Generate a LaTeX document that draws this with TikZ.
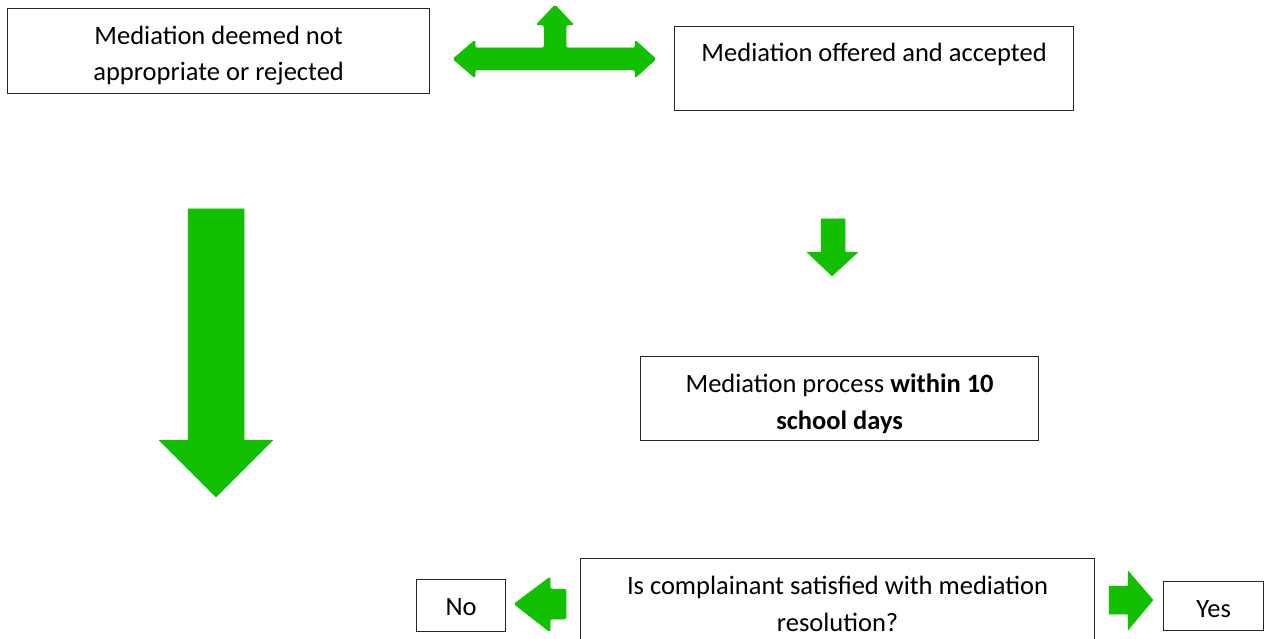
\documentclass[tikz,border=0pt]{standalone}
\usepackage{fontspec}
\setmainfont{Carlito}
\definecolor{arrowgreen}{RGB}{19,192,0}

\begin{document}
\begin{tikzpicture}[
	x=1pt, y=-1pt,
	box/.style={ draw=black!85, line width=1.2pt, fill=white, inner sep=0pt, anchor=north west },
	txt/.style={ anchor=base, inner sep=0pt, align=center, font=\fontsize{26.5}{36.5}\selectfont },
	blockarrow/.style={ fill=arrowgreen, draw=arrowgreen, line width=0.5pt, line join=round }
]
\clip (0,0) rectangle (1269,639);

\node at (7,8) (deemed) [box, minimum width=422pt, minimum height=85pt] {};
\node at (674,26) (offered) [box, minimum width=399pt, minimum height=84pt] {};
\node at (640,356) (process) [box, minimum width=398pt, minimum height=84pt] {};
\node at (580,558) (satisfied) [box, minimum width=514pt, minimum height=100pt] {};
\node at (416,579) (no) [box, minimum width=89pt, minimum height=52pt] {};
\node at (1163,581) (yes) [box, minimum width=100pt, minimum height=49pt] {};

\begin{scope}
\clip (deemed.north west) rectangle ([yshift=8pt]deemed.south east);
\node at ([yshift=-73pt]deemed.north) (deemedtxt) [txt] {Mediation deemed not\\appropriate or rejected};
\end{scope}
\node at ([yshift=-36pt]offered.north) (offeredtxt) [txt] {Mediation offered and accepted};
\begin{scope}
\clip (process.north west) rectangle ([yshift=8pt]process.south east);
\node at ([yshift=-73pt]process.north) (processtxt) [txt] {Mediation process \textbf{within 10}\\\textbf{school days}};
\end{scope}
\node at ([yshift=-73pt]satisfied.north) (satisfiedtxt) [txt] {Is complainant satisfied with mediation\\resolution?};
\node at ([yshift=-36pt]no.north) (notxt) [txt] {No};
\node at ([yshift=-36pt]yes.north) (yestxt) [txt] {Yes};

\fill[blockarrow, rounded corners=1.5pt] (453,59) -- (475,40) -- (475,48) -- (544,48) -- (544,25) -- (536,25) -- (555,5)
	-- (574,25) -- (566,25) -- (566,48) -- (635,48) -- (635,40) -- (656,59) -- (635,78) -- (635,70)
	-- (475,70) -- (475,78) -- cycle;
\fill[blockarrow] (188,209) -- (244,209) -- (244,440) -- (273,440) -- (216,497) -- (159,440) -- (188,440) -- cycle;
\fill[blockarrow] (821,219) -- (845,219) -- (845,252) -- (858,252) -- (832,276) -- (807,252) -- (821,252) -- cycle;
\fill[blockarrow, rounded corners=1.5pt] (514,604) -- (550,577) -- (550,589) -- (566,589) -- (566,619) -- (550,619) -- (550,632) -- cycle;
\fill[blockarrow] (1109,586) -- (1128,586) -- (1128,571) -- (1153,600) -- (1128,630) -- (1128,614) -- (1109,614) -- cycle;

\end{tikzpicture}
\end{document}
